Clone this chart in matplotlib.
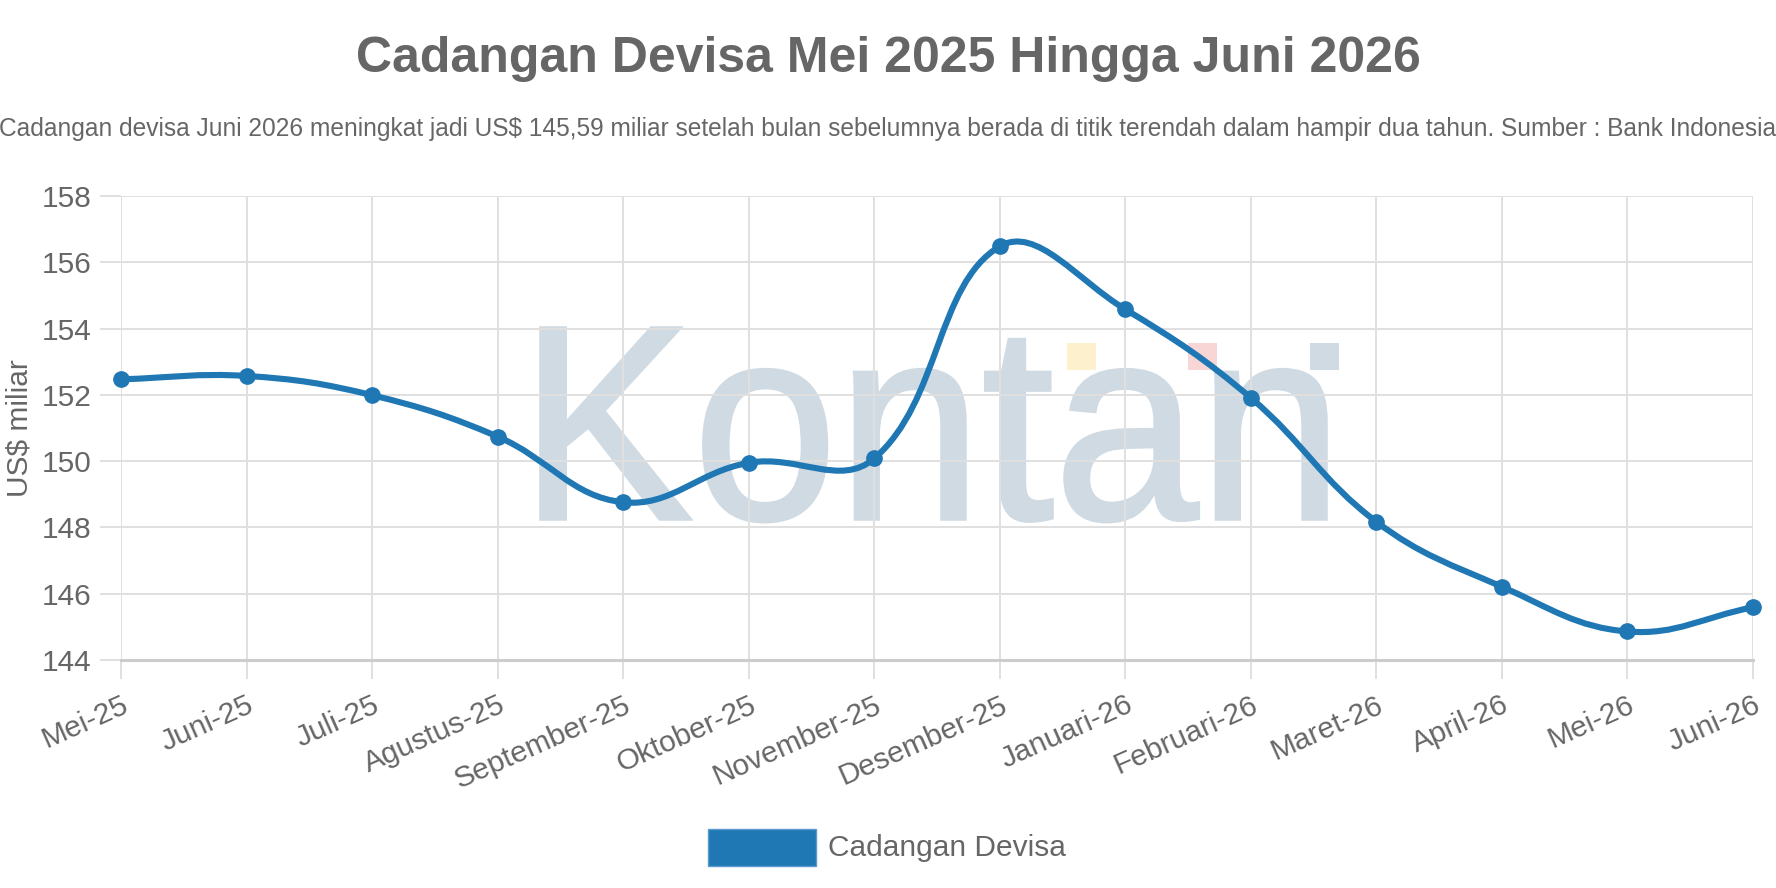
import numpy as np
import matplotlib
matplotlib.use('Agg')
import matplotlib.pyplot as plt
from matplotlib.path import Path
from matplotlib.patches import PathPatch, Rectangle
from matplotlib.textpath import TextPath
from matplotlib.font_manager import FontProperties
from matplotlib.transforms import Affine2D, ScaledTranslation

plt.rcParams['font.family'] = ['Liberation Sans', 'DejaVu Sans']

# ---------------- data ----------------
months = ["Mei-25", "Juni-25", "Juli-25", "Agustus-25", "September-25", "Oktober-25",
          "November-25", "Desember-25", "Januari-26", "Februari-26", "Maret-26",
          "April-26", "Mei-26", "Juni-26"]
values = [152.47, 152.57, 151.99, 150.74, 148.76, 149.95, 150.08,
          156.48, 154.58, 151.91, 148.17, 146.21, 144.86, 145.59]
y_ticks = [144, 146, 148, 150, 152, 154, 156, 158]
series_name = "Cadangan Devisa"
title = "Cadangan Devisa Mei 2025 Hingga Juni 2026"
subtitle = ("Cadangan devisa Juni 2026 meningkat jadi US$ 145,59 miliar setelah bulan "
            "sebelumnya berada di titik terendah dalam hampir dua tahun. Sumber : Bank Indonesia")
y_label = "US$ miliar"
watermark = "Kontan"

# ---------------- figure ----------------
W, H = 1776, 888
DPI = 100
fig = plt.figure(figsize=(W / DPI, H / DPI), dpi=DPI)
fig.patch.set_facecolor('white')

def fx(px):
    return px / W

def fy(py):
    return 1 - py / H

TXT = '#666666'
GRID = '#e0e0e0'
BLUE = '#1f77b4'
FS = 21.5

left, right, top, bottom = 121, 1753, 196, 660
ax = fig.add_axes([fx(left), fy(bottom), fx(right - left), (bottom - top) / H])
x = np.arange(len(values))
ax.set_xlim(0, len(values) - 1)
ax.set_ylim(y_ticks[0], y_ticks[-1])
ax.set_yticks(y_ticks)
ax.set_xticks(x)
ax.set_xticklabels(months, rotation=24, ha='right', va='top', rotation_mode='anchor')
shift = ScaledTranslation(-5 / DPI, 0, fig.dpi_scale_trans)
for lab in ax.get_xticklabels():
    lab.set_transform(lab.get_transform() + shift)

for s in ['left', 'right', 'top']:
    ax.spines[s].set_visible(False)
ax.spines['bottom'].set_color('#cccccc')
ax.spines['bottom'].set_linewidth(2.2)
ax.spines['bottom'].set_zorder(0.6)

ax.set_axisbelow(True)
ax.grid(True, color=GRID, linewidth=1.4)
ax.tick_params(axis='x', length=13.7, width=1.4, color=GRID, pad=8.5, labelsize=FS, labelcolor=TXT)
ax.tick_params(axis='y', length=15, width=1.4, color=GRID, pad=6, labelsize=FS, labelcolor=TXT)
ax.set_ylabel(y_label, fontsize=FS, color=TXT, labelpad=6)

# ---------------- watermark (behind grid) ----------------
fp = FontProperties(family='Liberation Sans', weight='normal')
tp = TextPath((0, 0), watermark, size=100, prop=fp)
ext = tp.get_extents()
capK = TextPath((0, 0), "K", size=100, prop=fp).get_extents()
wl, wr = 541, 1326
sx = (wr - wl) / ext.width
sy = (519 - 328) / capK.y1
wm_tr = Affine2D().translate(-ext.x0, 0).scale(sx, sy).translate(wl, H - 519)
ax.add_patch(PathPatch(tp, transform=wm_tr, facecolor='#cfdae2', edgecolor='#cfdae2',
                       linewidth=2.5, zorder=0.2, clip_on=False))
for (x0, col) in [(1067, '#fdf0cc'), (1188, '#f9d6d6'), (1310, '#cfdae2')]:
    ax.add_patch(Rectangle((x0, H - 370), 29, 27, transform=Affine2D(),
                           facecolor=col, edgecolor='none', zorder=0.2, clip_on=False))

# ---------------- spline line (Chart.js style, tension 0.4) ----------------
pts = ax.transData.transform(np.column_stack([x, values]))
n = len(pts)
t = 0.4
cp_prev = np.zeros_like(pts)
cp_next = np.zeros_like(pts)
for i in range(n):
    prev = pts[i - 1] if i > 0 else pts[i]
    cur = pts[i]
    nxt = pts[i + 1] if i < n - 1 else pts[i]
    d01 = np.hypot(*(cur - prev))
    d12 = np.hypot(*(nxt - cur))
    ssum = d01 + d12
    s01 = d01 / ssum if ssum else 0
    s12 = d12 / ssum if ssum else 0
    cp_prev[i] = cur - t * s01 * (nxt - prev)
    cp_next[i] = cur + t * s12 * (nxt - prev)

verts = [pts[0]]
codes = [Path.MOVETO]
for i in range(n - 1):
    verts += [cp_next[i], cp_prev[i + 1], pts[i + 1]]
    codes += [Path.CURVE4] * 3
inv = ax.transData.inverted()
verts = inv.transform(np.array(verts))
path = Path(verts, codes)
ax.add_patch(PathPatch(path, fill=False, edgecolor=BLUE, linewidth=4.4, capstyle='round',
                       joinstyle='round', clip_on=False, zorder=3))
ax.plot(x, values, 'o', ms=11, color=BLUE, clip_on=False, zorder=4)

# ---------------- titles ----------------
fig.text(0.5, fy(72), title, fontsize=36, fontweight='bold', color=TXT, ha='center', va='baseline')
fig.text(0.5, fy(136), subtitle, fontsize=17.65, color=TXT, ha='center', va='baseline')

# ---------------- legend ----------------
fig.patches.append(Rectangle((fx(708), fy(866)), 108 / W, 37 / H, transform=fig.transFigure,
                             facecolor=BLUE, edgecolor='#5b9bd0', linewidth=1))
fig.text(fx(828), fy(848), series_name, fontsize=FS, color=TXT, ha='left', va='center')

fig.savefig('out.png', dpi=DPI)
